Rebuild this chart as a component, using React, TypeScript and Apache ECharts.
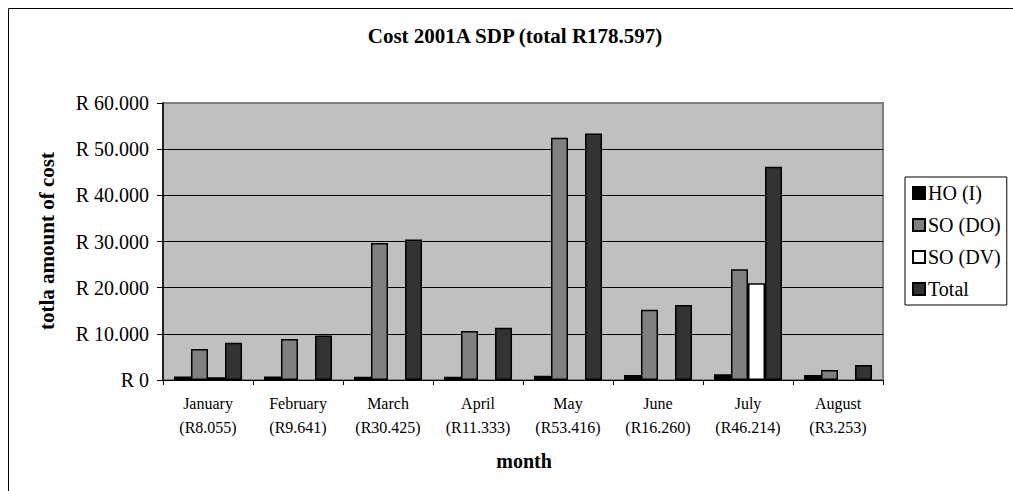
import React, { useEffect, useRef } from "react";
import * as echarts from "echarts";

const months = ["January", "February", "March", "April", "May", "June", "July", "August"];
const hoI = [750, 740, 725, 730, 900, 1060, 1250, 1100];
const soDO = [6700, 8900, 29700, 10600, 52500, 15200, 24000, 2150];
const soDV: (number | null)[] = [600, null, null, null, null, null, 20950, null];
const totals = [8055, 9641, 30425, 11333, 53416, 16260, 46214, 3253];
const yTicks = [0, 10000, 20000, 30000, 40000, 50000, 60000];
const seriesNames = ["HO (I)", "SO (DO)", "SO (DV)", "Total"];
const seriesColors = ["#000000", "#808080", "#FFFFFF", "#333333"];

const FONT = '"Liberation Serif", "Times New Roman", serif';

function fmtR(v: number) {
  if (v === 0) return "R 0";
  return "R " + (v / 1000).toFixed(3);
}

export default function App() {
  const ref = useRef<HTMLDivElement>(null);
  useEffect(() => {
    if (!ref.current) return;
    const chart = echarts.init(ref.current, null, { renderer: "svg" });
    const catLabels = months.map((m, i) => m + "\n(R" + (totals[i] / 1000).toFixed(3) + ")");
    const dataSets = [hoI, soDO, soDV, totals];
    chart.setOption({
      animation: false,
      textStyle: { fontFamily: FONT },
      grid: {
        left: 163,
        top: 103,
        right: 1013 - 883,
        bottom: 491 - 380,
        show: true,
        backgroundColor: "#C0C0C0",
        borderColor: "#808080",
        borderWidth: 2,
      },
      legend: {
        orient: "vertical",
        left: 905,
        top: 177,
        data: seriesNames,
        icon: "rect",
        itemWidth: 12,
        itemHeight: 12,
        itemGap: 10,
        padding: [5, 6, 5, 7],
        borderColor: "#000",
        borderWidth: 1,
        backgroundColor: "#fff",
        textStyle: { fontFamily: FONT, fontSize: 20, color: "#000", lineHeight: 22, padding: [0, 0, 0, -2] },
      },
      xAxis: {
        type: "category",
        data: catLabels,
        axisLine: { lineStyle: { color: "#000", width: 1 } },
        axisTick: { show: true, length: 5, lineStyle: { color: "#000" } },
        axisLabel: {
          fontFamily: FONT,
          fontSize: 16,
          lineHeight: 24,
          color: "#000",
          margin: 11,
          interval: 0,
        },
      },
      yAxis: {
        type: "value",
        min: 0,
        max: 60000,
        interval: 10000,
        axisLine: { show: true, lineStyle: { color: "#000", width: 1.5 } },
        axisTick: { show: true, length: 6, lineStyle: { color: "#000" } },
        axisLabel: {
          fontFamily: FONT,
          fontSize: 20,
          color: "#000",
          margin: 14,
          formatter: (v: number) => (yTicks.includes(v) ? fmtR(v) : ""),
        },
        splitLine: { show: true, showMaxLine: false, lineStyle: { color: "#000", width: 1 } },
      },
      series: dataSets.map((d, i) => ({
        name: seriesNames[i],
        type: "bar",
        data: d,
        barGap: "0%",
        barCategoryGap: "24.4%",
        itemStyle: { color: seriesColors[i], borderColor: "#000", borderWidth: 1.5 },
      })),
      graphic: [
        {
          type: "rect",
          shape: { x: 8.5, y: 8.5, width: 1100, height: 600 },
          style: { fill: "none", stroke: "#000", lineWidth: 1 },
          silent: true,
          z: -10,
        },
        {
          type: "text",
          x: 515,
          y: 36,
          style: {
            text: "Cost 2001A SDP (total R178.597)",
            font: 'bold 21px "Liberation Serif", "Times New Roman", serif',
            fill: "#000",
            align: "center",
            verticalAlign: "middle",
          },
        },
        {
          type: "text",
          x: 47,
          y: 241,
          rotation: Math.PI / 2,
          style: {
            text: "totla amount of cost",
            font: 'bold 21px "Liberation Serif", "Times New Roman", serif',
            fill: "#000",
            align: "center",
            verticalAlign: "middle",
          },
        },
        {
          type: "text",
          x: 524,
          y: 461,
          style: {
            text: "month",
            font: 'bold 20px "Liberation Serif", "Times New Roman", serif',
            fill: "#000",
            align: "center",
            verticalAlign: "middle",
          },
        },
      ],
    });
    return () => chart.dispose();
  }, []);
  return (
    <div
      ref={ref}
      style={{ position: "absolute", left: 0, top: 0, width: 1013, height: 491, background: "#fff" }}
    />
  );
}
